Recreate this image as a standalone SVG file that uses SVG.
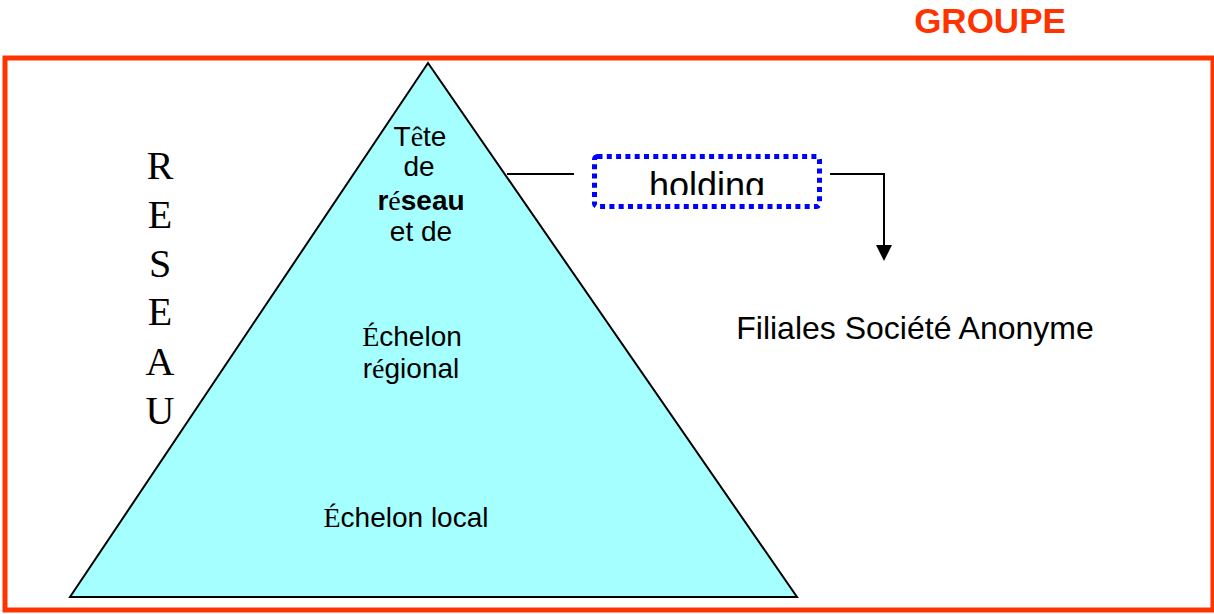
<svg xmlns="http://www.w3.org/2000/svg" width="1214" height="614" viewBox="0 0 1214 614">
<style>
.sans{font-family:"Liberation Sans",Arial,sans-serif;fill:#000}
.serif{font-family:"Liberation Serif","Times New Roman",serif;fill:#000}
.conn{stroke:#000;stroke-width:2;fill:none}
</style>
<defs>
<clipPath id="hclip"><rect x="594" y="156" width="226" height="39"/></clipPath>
</defs>
<rect width="1214" height="614" fill="#fff"/>
<g id="groupe">
<rect x="5" y="58" width="1208" height="552" fill="none" stroke="#FF3300" stroke-width="5"/>
<text x="990" y="33" text-anchor="middle" font-family="Liberation Sans,Arial,sans-serif" font-weight="bold" font-size="35" fill="#FF3300">GROUPE</text>
</g>
<g id="reseau-label" class="serif" font-size="40" text-anchor="middle">
<text x="160" y="179">R</text>
<text x="160" y="228">E</text>
<text x="160" y="277">S</text>
<text x="160" y="325">E</text>
<text x="160" y="375">A</text>
<text x="160" y="424">U</text>
</g>
<g id="pyramide">
<polygon points="428,63 70,597 797,597" fill="#A6FFFF" stroke="#000" stroke-width="2"/>
<g font-size="28" text-anchor="middle">
<text class="sans" x="420" y="146">T<tspan class="serif">ê</tspan>te</text>
<text class="sans" x="419" y="176">de</text>
<text class="sans" x="421" y="210" font-weight="bold">r<tspan class="serif" font-weight="normal">é</tspan>seau</text>
<text class="sans" x="421" y="241">et de</text>
<text class="sans" x="412" y="346"><tspan class="serif">É</tspan>chelon</text>
<text class="sans" x="411" y="378">r<tspan class="serif">é</tspan>gional</text>
<text class="sans" x="406" y="527"><tspan class="serif">É</tspan>chelon local</text>
</g>
</g>
<g id="holding">
<rect x="594.5" y="156.5" width="225" height="50" rx="3" fill="none" stroke="#0000FF" stroke-width="5" stroke-dasharray="5 4.3"/>
<text class="sans" x="707" y="198" font-size="36" text-anchor="middle" clip-path="url(#hclip)">holding</text>
</g>
<g id="filiales">
<text class="sans" x="915" y="339" font-size="32" text-anchor="middle">Filiales Société Anonyme</text>
</g>
<g id="connectors">
<line class="conn" x1="507" y1="174" x2="574" y2="174"/>
<path class="conn" d="M830,174 H884 V246"/>
<path d="M876,245 L892,245 L884,261 Z" fill="#000"/>
</g>
</svg>
